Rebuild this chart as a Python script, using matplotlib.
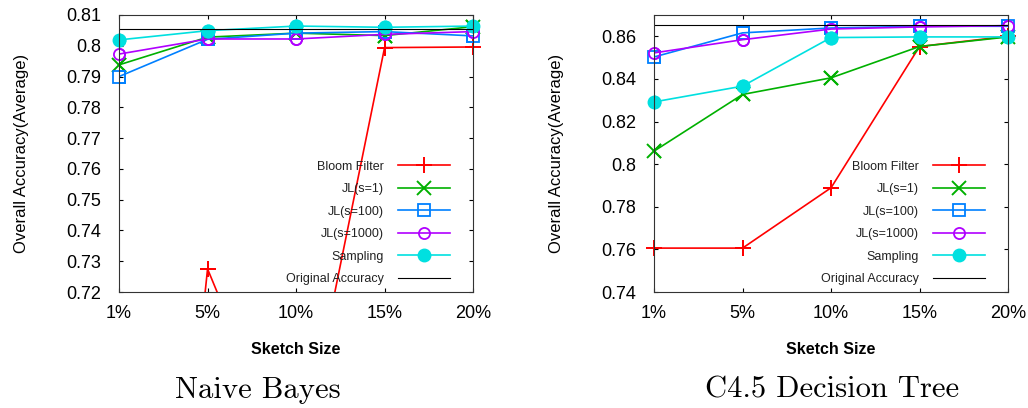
import numpy as np
import matplotlib.pyplot as plt

plt.rcParams['font.family'] = ['Liberation Sans', 'DejaVu Sans']

# Sketch sizes on the x axis
sketch_sizes = ['1%', '5%', '10%', '15%', '20%']

# Naive Bayes accuracies
nb_bloom = [0.45, 0.7275, 0.658, 0.7994, 0.7996]
nb_jl1 = [0.7938, 0.8028, 0.8041, 0.8033, 0.8062]
nb_jl100 = [0.7900, 0.8021, 0.8041, 0.8046, 0.8032]
nb_jl1000 = [0.7973, 0.8022, 0.8022, 0.8037, 0.8046]
nb_sampling = [0.8019, 0.8049, 0.8064, 0.8060, 0.8064]
nb_original = 0.8054

# C4.5 decision tree accuracies
dt_bloom = [0.7606, 0.7606, 0.7889, 0.8552, 0.8600]
dt_jl1 = [0.8061, 0.8327, 0.8405, 0.8552, 0.8597]
dt_jl100 = [0.8503, 0.8616, 0.8639, 0.8647, 0.8647]
dt_jl1000 = [0.8522, 0.8584, 0.8634, 0.8644, 0.8650]
dt_sampling = [0.8292, 0.8366, 0.8594, 0.8597, 0.8597]
dt_original = 0.8653

styles = [
    ('Bloom Filter', '#ff0000', '+', dict(markersize=11, markeredgewidth=1.4)),
    ('JL(s=1)', '#00b000', 'x', dict(markersize=10, markeredgewidth=1.4)),
    ('JL(s=100)', '#0080ff', 's', dict(markersize=8, markeredgewidth=1.3, markerfacecolor='none')),
    ('JL(s=1000)', '#b000ff', 'o', dict(markersize=8, markeredgewidth=1.3, markerfacecolor='none')),
    ('Sampling', '#00e0e0', 'o', dict(markersize=9, markeredgewidth=1.0)),
]


def draw_panel(ax, series, original, ylim, yticks, title, title_x):
    x = np.arange(len(sketch_sizes))
    for (label, color, marker, kw), vals in zip(styles, series):
        vals = np.asarray(vals)
        # line (clipped to the axes) carries the legend entry
        ax.plot(x, vals, color=color, marker=marker, linewidth=1.2,
                label=label, **kw)
        # markers at the frame edges are drawn whole, like gnuplot does
        inside = np.where((vals >= ylim[0]) & (vals <= ylim[1]), vals, np.nan)
        ax.plot(x, inside, color=color, marker=marker, linestyle='none',
                clip_on=False, **kw)
    ax.plot(x, [original] * len(x), color='black', linewidth=0.8,
            label='Original Accuracy')

    ax.set_xlim(x[0], x[-1])
    ax.set_ylim(*ylim)
    ax.set_xticks(x)
    ax.set_xticklabels(sketch_sizes)
    ax.set_yticks(yticks)
    ax.set_yticklabels(['%g' % t for t in yticks])
    ax.tick_params(axis='both', direction='in', length=3, width=0.8,
                   top=True, right=True, labelsize=13)
    ax.tick_params(axis='x', pad=9)
    ax.tick_params(axis='y', pad=13)
    for sp in ax.spines.values():
        sp.set_linewidth(0.8)
        sp.set_color('#333333')

    ax.set_xlabel('Sketch Size', fontsize=11.5, fontweight='bold', labelpad=15)
    ax.set_ylabel('Overall Accuracy(Average)', fontsize=12)
    ax.yaxis.set_label_coords(-0.255, 0.5)

    leg = ax.legend(loc='lower right', bbox_to_anchor=(0.935, 0.025),
                    frameon=False, markerfirst=False, fontsize=9,
                    handlelength=4.2, handletextpad=1.1, labelspacing=0.84,
                    borderpad=0, borderaxespad=0)
    for t in leg.get_texts():
        t.set_color('#222222')

    ax.figure.text(title_x, 0.044, title, ha='center', va='center',
                   fontsize=22, family='cmr10')


fig = plt.figure(figsize=(10.28, 4.08), dpi=100)
ax1 = fig.add_axes([0.1158, 0.2843, 0.3444, 0.679])
ax2 = fig.add_axes([0.6362, 0.2843, 0.3444, 0.679])

draw_panel(ax1, [nb_bloom, nb_jl1, nb_jl100, nb_jl1000, nb_sampling],
           nb_original, (0.72, 0.81), np.round(np.arange(0.72, 0.8101, 0.01), 2),
           'Naive Bayes', 0.251)
draw_panel(ax2, [dt_bloom, dt_jl1, dt_jl100, dt_jl1000, dt_sampling],
           dt_original, (0.74, 0.87), np.round(np.arange(0.74, 0.8601, 0.02), 2),
           'C4.5 Decision Tree', 0.809)

fig.savefig('out.png', dpi=100)
